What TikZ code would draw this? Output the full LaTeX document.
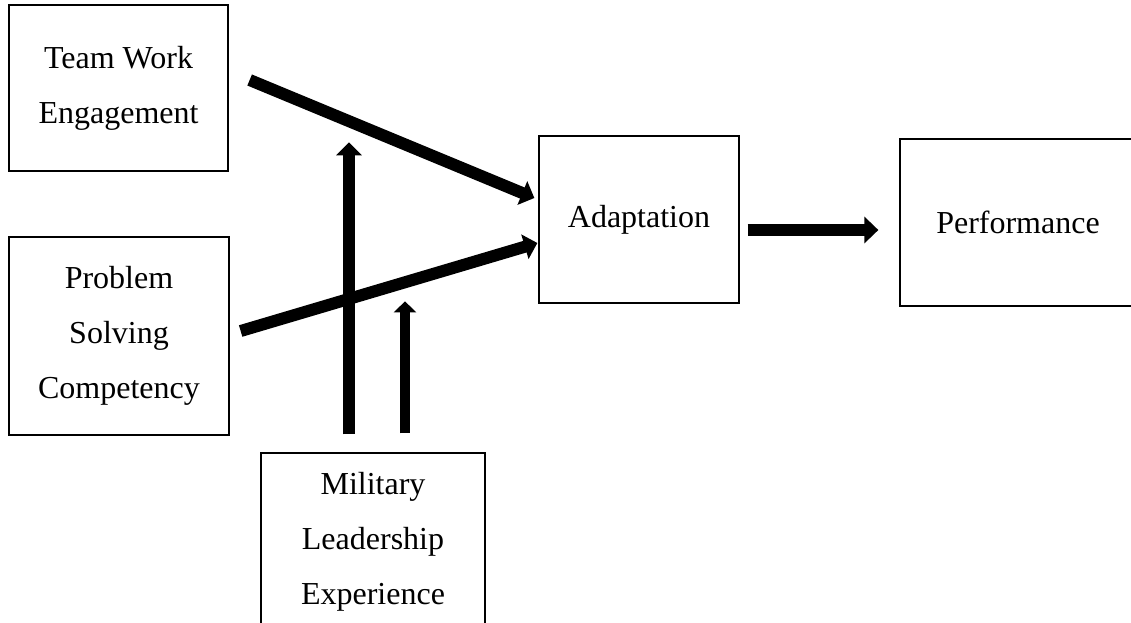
\documentclass[tikz,border=0pt]{standalone}
\usepackage{fontspec}
\setmainfont{Liberation Serif}
\usetikzlibrary{arrows.meta,calc}

\begin{document}
\begin{tikzpicture}[x=1pt,y=-1pt,
    box/.style={draw,line width=1.3pt,align=center,inner sep=0pt,font=\fontsize{32}{55}\selectfont},
    flow/.style={line width=12pt,-{Triangle[width=25pt,length=13pt]}}]
  \useasboundingbox (0,0) rectangle (1131,622);
  \clip (0,0) rectangle (1131,622);
  % boxes
  \node[box,minimum width=219,minimum height=166] (team) at (118.5,88) {Team Work\\Engagement};
  \node[box,minimum width=220,minimum height=198] (prob) at (119,336) {Problem\\Solving\\Competency};
  \node[box,minimum width=200,minimum height=167] (adapt) at (639,219.5) {Adaptation};
  \node[box,minimum width=236,minimum height=167] (perf) at (1018,222.5) {Performance};
  \node[box,minimum width=224,minimum height=178] (mil) at (373,542) {Military\\Leadership\\Experience};
  % paths
  \draw[flow] ($(team.east)+(21,-8)$) -- ($(adapt.west)+(-4,-21.5)$);
  \draw[flow] ($(prob.east)+(11,-5)$) -- ($(adapt.west)+(-1,23.5)$);
  \draw[flow] ($(mil.north)+(-24,-18)$) -- ($(mil.north)+(-24,-310)$);
  \draw[flow,line width=10.5pt,-{Triangle[width=22pt,length=11pt]}] ($(mil.north)+(32,-19)$) -- ($(mil.north)+(32,-151)$);
  \draw[flow,-{Triangle[width=26pt,length=14pt]}] ($(adapt.east)+(8,10.5)$) -- ($(perf.west)+(-21,7.5)$);
\end{tikzpicture}
\end{document}
